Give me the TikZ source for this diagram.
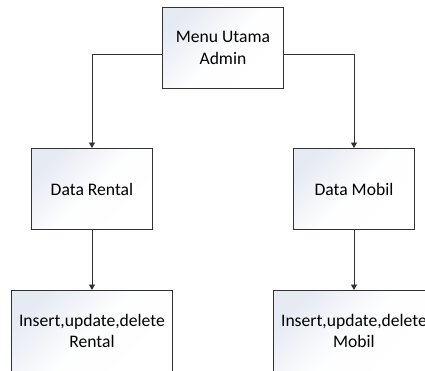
\documentclass[tikz,border=0pt]{standalone}
\usepackage{fontspec}
\setmainfont{Carlito}
\usetikzlibrary{arrows.meta}
\definecolor{boxtint}{RGB}{230,234,243}
\definecolor{edge}{RGB}{50,50,50}
\begin{document}
\begin{tikzpicture}[x=1pt,y=-1pt,
  menubox/.style={draw=edge,line width=0.9pt,top color=boxtint,bottom color=white,
    middle color=white!93!boxtint,shading angle=45,minimum width=121pt,minimum height=81pt,inner sep=0pt,
    align=center,font=\fontsize{17.6}{21.4}\selectfont,anchor=north west},
  wide/.style={minimum width=161pt},
  link/.style={draw=edge,line width=0.9pt,-{Triangle[width=6pt,length=5.5pt]}}]
\clip (0,0) rectangle (425,370);
\fill[white] (0,0) rectangle (425,370);
% top level
\node[menubox] (menu) at (162,7) {Menu Utama\\Admin};
% second level
\node[menubox] (rental) at (31,148) {Data Rental};
\node[menubox] (mobil) at (293,148) {Data Mobil};
% third level
\node[menubox,wide] (crudrental) at (11,290) {Insert,update,delete\\Rental};
\node[menubox,wide] (crudmobil) at (273,290) {Insert,update,delete\\Mobil};
% connectors
\draw[link] ([yshift=-6pt]menu.west) -| (rental.north);
\draw[link] ([yshift=-6pt]menu.east) -| (mobil.north);
\draw[link] (rental.south) -- (crudrental.north);
\draw[link] (mobil.south) -- (crudmobil.north);
\end{tikzpicture}
\end{document}
